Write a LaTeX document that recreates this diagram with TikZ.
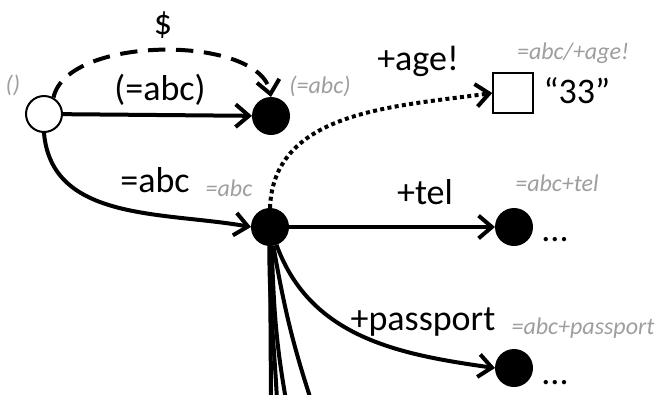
\documentclass[tikz,border=0pt]{standalone}
\usepackage{fontspec}
\setmainfont{Carlito}
\usetikzlibrary{arrows.meta}
\definecolor{addrgray}{gray}{0.62}
\begin{document}
\begin{tikzpicture}[x=0.75pt,y=0.75pt,>={Straight Barb[length=10pt,width=17pt]},line width=3pt,
  open/.style={circle,draw,fill=white,line width=1.5pt,minimum size=27pt,inner sep=0pt},
  full/.style={circle,draw,fill=black,line width=1.5pt,minimum size=27pt,inner sep=0pt},
  lab/.style={font=\fontsize{27}{31}\selectfont},
  addr/.style={font=\fontsize{18}{21}\selectfont\itshape,text=addrgray}]
\clip (0,0) rectangle (671,-394);

\node(Root)[open] at (44,-114){};
\node(Opt)[full] at (271,-116){};
\node(Abc)[full] at (270,-227){};
\node(Age)[draw,line width=1.1pt,minimum size=30pt,inner sep=0pt] at (513,-93){};
\node(Tel)[full] at (514,-227){};
\node(Pass)[full] at (514,-368){};

% grey paths
\node(RootA)[addr] at (13,-85){()};
\node(OptA)[addr] at (320,-86){(=abc)};
\node(AbcA)[addr] at (229,-188){=abc};
\node(AgeA)[addr] at (573,-53){=abc/+age!};
\node(TelA)[addr] at (557,-183){=abc+tel};
\node(PassA)[addr] at (583,-328){=abc+passport};

% edge labels
\node(Dollar)[lab] at (163,-25){\$};
\node(OptL)[lab] at (160,-90){(=abc)};
\node(AbcL)[lab] at (155,-180){=abc};
\node(AgeL)[lab] at (418,-61){+age!};
\node(TelL)[lab] at (425,-192){+tel};
\node(PassL)[lab] at (423,-322){+passport};
\node(Val)[lab] at (577,-91){“33”};
\node(TelMore)[lab] at (555,-240){...};
\node(PassMore)[lab] at (555,-383){...};

\draw (Root) edge[->] (Opt);
\draw (Root.60) edge[->,dash pattern=on 13pt off 8pt,out=78,in=100,looseness=0.75] (Opt.north);
\draw (Root.south) edge[->,out=-85,in=170] (Abc.west);
\draw (Abc.north) edge[->,dash pattern=on 3pt off 2.5pt,out=88,in=188] (Age.west);
\draw (Abc) edge[->] (Tel);
\draw (Abc.-70) edge[->,out=-70,in=172] (Pass.west);

% more branches, cut off
\coordinate(Down1) at (271,-400);
\coordinate(Down2) at (277,-400);
\coordinate(Down3) at (286,-400);
\coordinate(Down4) at (311,-400);
\draw (Abc.south) -- (Down1);
\draw (Abc.-92) to[out=-90,in=93] (Down2);
\draw (Abc.-85) to[out=-88,in=100] (Down3);
\draw (Abc.-80) to[out=-80,in=108] (Down4);
\end{tikzpicture}
\end{document}
